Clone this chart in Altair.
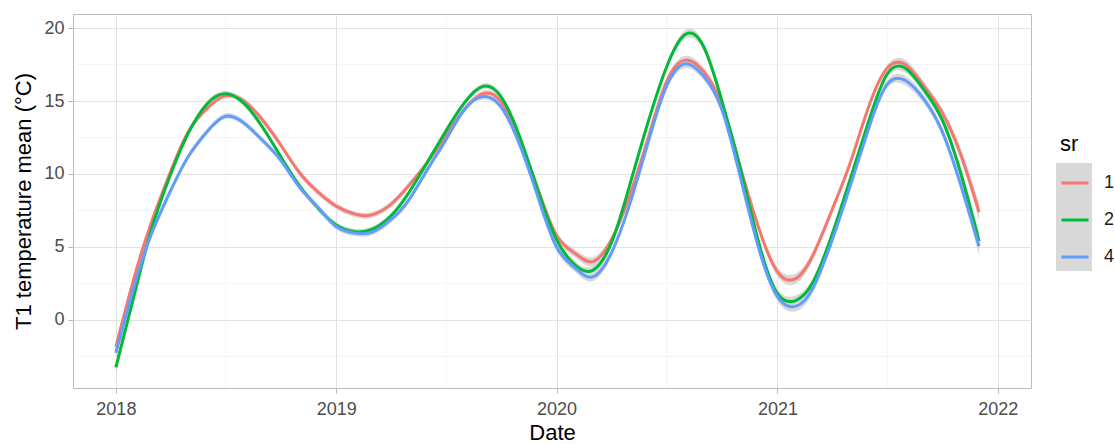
import altair as alt
import pandas as pd

# ---------------- data ----------------
months = pd.date_range("2018-01-01", periods=48, freq="MS").strftime("%Y-%m-%d").tolist()
series_names = ["1", "2", "4"]
colors = ["#F8766D", "#00BA38", "#619CFF"]

sr1 = [-1.85, 3.0, 6.7, 10.1, 12.9, 14.5, 15.35, 15.0, 13.7, 12.0, 10.1, 8.8,
       7.8, 7.25, 7.2, 7.9, 9.2, 10.8, 12.6, 14.4, 15.5, 14.95, 12.3, 9.0,
       5.8, 4.55, 4.0, 5.5, 8.5, 12.5, 16.3, 17.8, 17.0, 14.7, 10.4, 6.3,
       3.3, 2.85, 4.45, 7.5, 10.7, 14.6, 17.2, 17.5, 16.0, 14.2, 11.3, 7.4]
sr2 = [-3.25, 1.8, 6.2, 9.9, 12.8, 14.8, 15.5, 14.85, 13.2, 11.2, 9.2, 7.7,
       6.5, 6.05, 6.2, 7.1, 8.7, 10.8, 12.9, 14.85, 16.0, 15.3, 12.55, 8.9,
       5.5, 3.75, 3.4, 5.3, 9.2, 13.6, 17.3, 19.55, 18.7, 15.0, 10.3, 5.3,
       1.8, 1.35, 2.6, 5.8, 9.6, 13.6, 16.8, 17.25, 15.75, 13.7, 10.0, 5.4]
sr4 = [-2.25, 2.4, 5.9, 8.8, 11.2, 12.9, 13.95, 13.5, 12.3, 10.95, 9.1, 7.75,
       6.4, 5.95, 6.0, 6.85, 8.2, 10.3, 12.3, 14.4, 15.3, 14.6, 12.0, 8.45,
       5.0, 3.55, 2.95, 4.6, 7.9, 12.2, 16.0, 17.55, 16.7, 14.4, 9.7, 4.9,
       1.6, 0.95, 2.2, 5.4, 9.1, 13.1, 16.1, 16.4, 15.1, 12.9, 9.2, 5.05]
# half-width of the grey confidence ribbon, per month
band_half = [0.45, 0.3, 0.22, 0.2, 0.2, 0.2, 0.2, 0.2, 0.2, 0.2, 0.2, 0.2,
             0.2, 0.2, 0.2, 0.2, 0.2, 0.2, 0.2, 0.2, 0.2, 0.2, 0.2, 0.22,
             0.25, 0.28, 0.3, 0.25, 0.22, 0.22, 0.25, 0.3, 0.28, 0.25, 0.25, 0.28,
             0.32, 0.35, 0.3, 0.25, 0.22, 0.22, 0.25, 0.32, 0.3, 0.3, 0.4, 0.6]

year_ticks = [2018, 2019, 2020, 2021, 2022]
minor_x = ["2018-07-02", "2019-07-02", "2020-07-02", "2021-07-02"]
y_ticks = [0, 5, 10, 15, 20]
minor_y = [-2.5, 2.5, 7.5, 12.5, 17.5]

rows = []
for name, vals in zip(series_names, [sr1, sr2, sr4]):
    for d, v, h in zip(months, vals, band_half):
        rows.append({"date": d, "sr": name, "key": name, "temp": v,
                     "lo": v - h, "hi": v + h})
df = pd.DataFrame(rows)
df_mx = pd.DataFrame({"date": minor_x})
df_my = pd.DataFrame({"temp": minor_y})

FONT = "Liberation Sans"
YTITLE = "T1 temperature mean (°C)"
INTERP = "natural"

x_scale = alt.Scale(type="utc", domain=[alt.DateTime(year=2017, month=10, date=22, utc=True),
                                         alt.DateTime(year=2022, month=2, date=25, utc=True)])
y_scale = alt.Scale(domain=[-4.66, 20.96], nice=False, zero=False)

x_axis = alt.Axis(values=[alt.DateTime(year=y, month=1, date=1, utc=True) for y in year_ticks],
                  format="%Y", labelPadding=7, titlePadding=4)
y_axis = alt.Axis(values=y_ticks, labelPadding=4, titlePadding=8)

minor_v = alt.Chart(df_mx).mark_rule(color="#EEEEEE", strokeWidth=0.6).encode(
    x=alt.X("date:T", scale=x_scale, axis=x_axis, title="Date"))
minor_h = alt.Chart(df_my).mark_rule(color="#EEEEEE", strokeWidth=0.6).encode(
    y=alt.Y("temp:Q", scale=y_scale, axis=y_axis, title=YTITLE))

ribbons = alt.Chart(df).mark_area(interpolate=INTERP, opacity=1).encode(
    x=alt.X("date:T", scale=x_scale, axis=x_axis, title="Date"),
    y=alt.Y("lo:Q", scale=y_scale, axis=y_axis, title=YTITLE),
    y2="hi:Q",
    fill=alt.Fill("key:N", scale=alt.Scale(range=["#D9D9D9"] * 3),
                  legend=alt.Legend(orient="none", legendX=983, legendY=149, title=None,
                                    symbolType="square", symbolSize=1296, symbolStrokeWidth=0,
                                    symbolOpacity=1, rowPadding=0, padding=0,
                                    labelExpr="''", labelFontSize=1)),
)

lines = alt.Chart(df).mark_line(interpolate=INTERP, strokeWidth=3).encode(
    x=alt.X("date:T", scale=x_scale, axis=x_axis, title="Date"),
    y=alt.Y("temp:Q", scale=y_scale, axis=y_axis, title=YTITLE),
    color=alt.Color("sr:N", scale=alt.Scale(range=colors),
                    legend=alt.Legend(orient="none", legendX=987, legendY=120, title="sr",
                                      symbolType="stroke", symbolSize=729, symbolStrokeWidth=3,
                                      rowPadding=13, padding=0, labelFontSize=18,
                                      labelColor="#1A1A1A", labelFont=FONT, labelOffset=14,
                                      titleFont=FONT, titleFontSize=22, titleFontWeight="normal",
                                      titleColor="#000000", titlePadding=12)),
)

chart = alt.layer(minor_v, minor_h, ribbons, lines).properties(
    width=958, height=374,
    autosize=alt.AutoSizeParams(type="none"),
    padding={"left": 73, "top": 14, "right": 84, "bottom": 56},
).configure_view(
    stroke="#BDBDBD", strokeWidth=1
).configure_axis(
    labelFont=FONT, titleFont=FONT, labelFontSize=18, titleFontSize=22,
    labelColor="#4D4D4D", titleColor="#000000", titleFontWeight="normal",
    domain=False, tickColor="#B3B3B3", tickSize=5, tickWidth=1,
    gridColor="#E3E3E3", gridWidth=1,
)

chart.save("out.html", embed_options={"renderer": "svg", "actions": False})
